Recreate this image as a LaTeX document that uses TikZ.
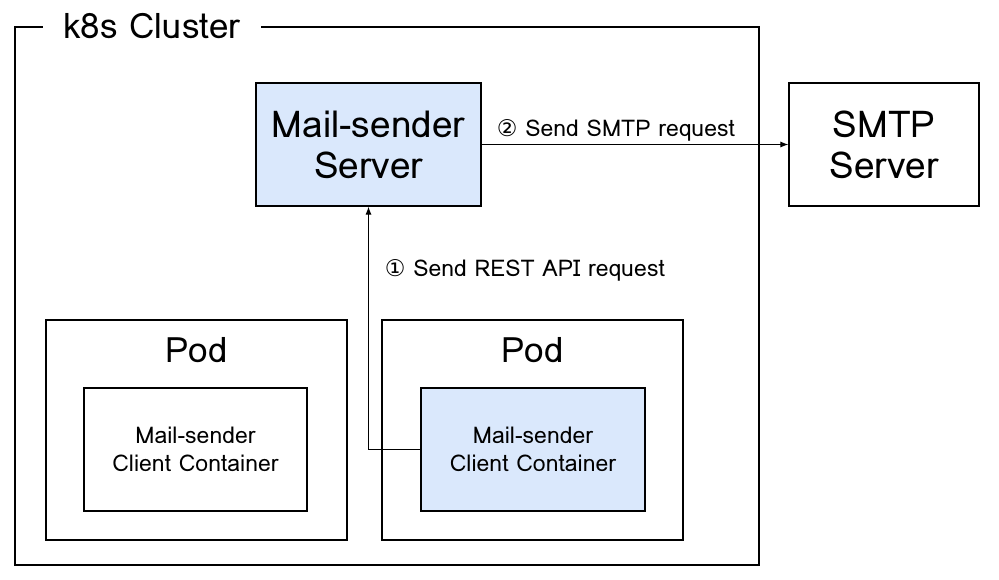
\documentclass[tikz,border=0pt]{standalone}
\usepackage{fontspec}
\setmainfont{Loma}
\newfontfamily\symfont{DejaVu Sans}
\usepackage{tikz}
\usetikzlibrary{arrows.meta,positioning}
\definecolor{lightblue}{HTML}{DAE8FC}

\begin{document}
\begin{tikzpicture}[x=1pt,y=-1pt,line width=1.2pt,
    box/.style={draw,align=center,inner sep=0pt},
    conn/.style={line width=0.9pt,-{Latex[length=8pt,width=6pt]}}]
  \useasboundingbox (0,0) rectangle (999,579);
  % cluster frame
  \draw (15,27) rectangle (759,565);
  \node [fill=white,inner xsep=20pt,inner ysep=2pt,font=\fontsize{35}{38}\selectfont] (cluster) at (152,26) {k8s Cluster};
  % servers
  \node [box,fill=lightblue,minimum width=225pt,minimum height=123pt,font=\fontsize{37}{41}\selectfont] (server) at (368.5,144.5) {Mail-sender\\Server};
  \node [box,minimum width=190pt,minimum height=123pt,font=\fontsize{37}{41}\selectfont] (smtp) at (884,144.5) {SMTP\\Server};
  % pods
  \node [box,minimum width=301pt,minimum height=220pt] (pod1) at (196.5,430) {};
  \node [font=\fontsize{35}{38}\selectfont] (podlabel1) at (196.5,350) {Pod};
  \node [box,minimum width=223pt,minimum height=123pt,font=\fontsize{23}{28}\selectfont] (client1) at (195.5,449.5) {Mail-sender\\Client Container};
  \node [box,minimum width=301pt,minimum height=220pt] (pod2) at (532.5,430) {};
  \node [font=\fontsize{35}{38}\selectfont] (podlabel2) at (532.5,350) {Pod};
  \node [box,fill=lightblue,minimum width=224pt,minimum height=123pt,font=\fontsize{23}{28}\selectfont] (client2) at (533,449.5) {Mail-sender\\Client Container};
  % requests
  \draw [conn] (client2.west) -| (server.south);
  \node [anchor=west,font=\fontsize{23}{26}\selectfont] (rest) at (381,270) {{\symfont ①} Send REST API request};
  \draw [conn] (server.east) -- (smtp.west);
  \node [anchor=west,font=\fontsize{23}{26}\selectfont] (smtpreq) at (493,130) {{\symfont ②} Send SMTP request};
\end{tikzpicture}
\end{document}
